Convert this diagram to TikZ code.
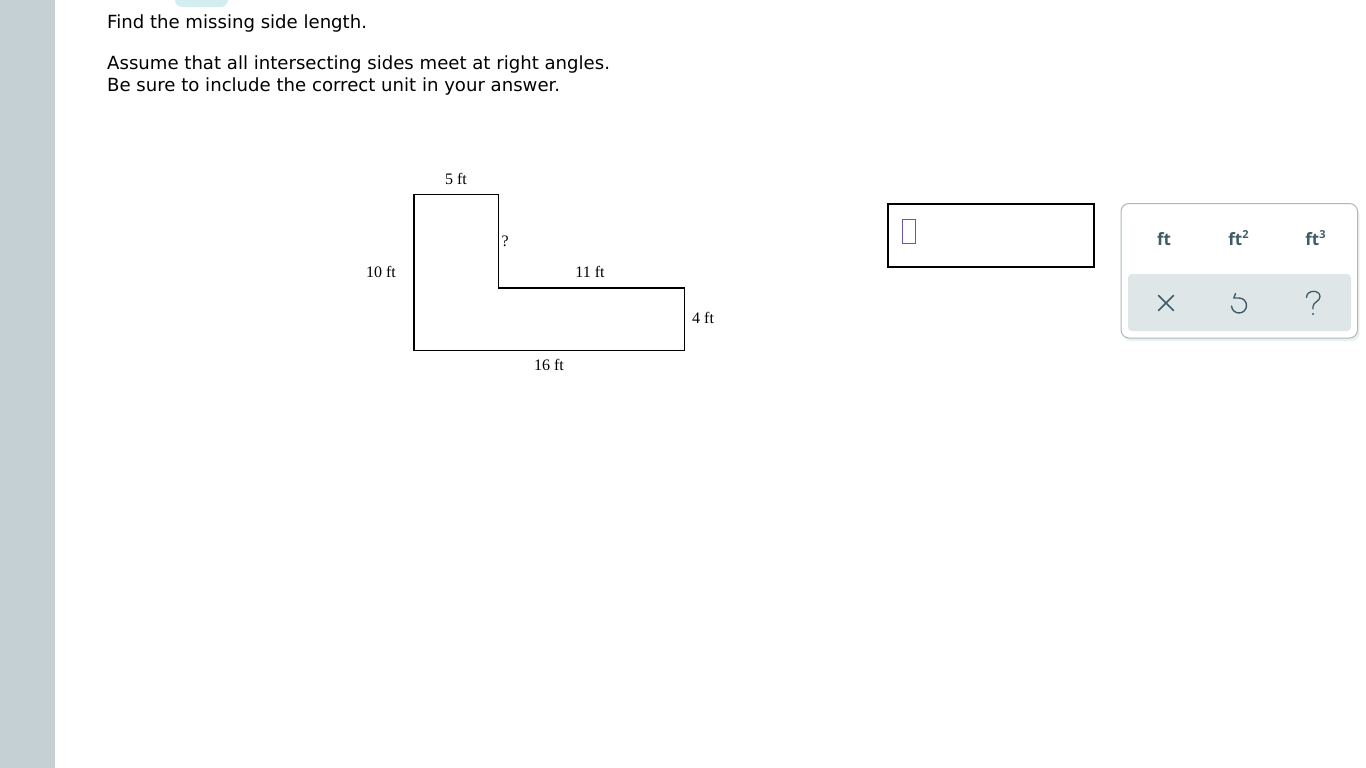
\documentclass[tikz,border=0pt]{standalone}
\usepackage{fontspec}
\setmainfont{DejaVu Sans}
\newfontfamily\seriffont{Liberation Serif}
\newfontfamily\unitfont{Open Sans}
\usetikzlibrary{shadows,arrows.meta}
\definecolor{sidebar}{HTML}{C4D0D4}
\definecolor{pill}{HTML}{D3EEF1}
\definecolor{unitcol}{HTML}{3E5C68}
\definecolor{panelborder}{HTML}{A9B9BF}
\definecolor{panelgray}{HTML}{DFE6E8}
\definecolor{cursorcol}{HTML}{6357BD}
\newcommand{\supnum}[1]{\raisebox{6.5pt}{\fontsize{11}{12}\selectfont #1}}
\tikzset{
  prompt/.style={anchor=base west, inner sep=0pt, font=\fontsize{18.1}{22}\selectfont},
  dimlabel/.style={anchor=base, inner sep=0pt, font=\seriffont\fontsize{16}{18}\selectfont},
  shapeline/.style={line width=1.3pt, line join=miter},
  unitkey/.style={inner sep=0pt, anchor=base, text=unitcol, font=\unitfont\bfseries\fontsize{17}{19}\selectfont},
  iconline/.style={draw=unitcol, line width=1.5pt, line cap=round, line join=round}
}
\begin{document}
\begin{tikzpicture}[x=1pt,y=-1pt]
\useasboundingbox (0,0) rectangle (1366,768);
\fill[white] (0,0) rectangle (1366,768);
% sidebar and pill
\fill[sidebar] (0,0) rectangle (55,768);
\fill[pill, rounded corners=7pt] (175,-10) rectangle (228,7);
% prompts
\node[prompt] (p1) at (107,29) {Find the missing side length.};
\node[prompt] (p2) at (107,69.5) {Assume that all intersecting sides meet at right angles.};
\node[prompt] (p3) at (107,91.5) {Be sure to include the correct unit in your answer.};
% shape
\coordinate (A) at (414,194.5);
\coordinate (B) at (498.5,194.5);
\coordinate (C) at (498.5,288);
\coordinate (D) at (684.3,288);
\coordinate (E) at (684.3,350.5);
\coordinate (F) at (414,350.5);
\draw[shapeline] (A) -- (B) -- (C) -- (D) -- (E) -- (F) -- cycle;
\node[dimlabel] (l5) at (456,184) {5 ft};
\node[dimlabel, anchor=base west] (lq) at (501.5,246) {?};
\node[dimlabel] (l10) at (381,277) {10 ft};
\node[dimlabel] (l11) at (590,277) {11 ft};
\node[dimlabel, anchor=base west] (l4) at (692,323) {4 ft};
\node[dimlabel] (l16) at (549,370) {16 ft};
% answer box
\draw[line width=1.2pt] (888,204) rectangle (1094,267);
\draw[cursorcol, line width=1.1pt] (902.5,219.5) rectangle (915.5,243.5);
% panel
\draw[panelborder, line width=1pt, fill=white, rounded corners=8pt,
  drop shadow={shadow xshift=2pt, shadow yshift=-3pt, opacity=0.12}] (1121,203.5) rectangle (1357.5,338);
\fill[panelgray, rounded corners=4pt] (1128,274) rectangle (1351,331);
\node[unitkey] (u1) at (1164,245) {ft};
\node[unitkey] (u2) at (1238.5,245) {ft\supnum{2}};
\node[unitkey] (u3) at (1315.5,245) {ft\supnum{3}};
% icons: close
\coordinate (xc) at (1166,303);
\draw[iconline] (xc) ++(-7.5,-7.5) -- ++(15,15);
\draw[iconline] (xc) ++(-7.5,7.5) -- ++(15,-15);
% icons: undo
\coordinate (uc) at (1239,305.5);
\draw[iconline, line width=1.4pt] (1235.5,293.5) -- (1233.8,298) -- (1239,298)
  arc[start angle=-90, end angle=175, radius=7.5];
% icons: help
\draw[iconline, line width=1.3pt] (1306.5,297.5) .. controls (1306.5,289.5) and (1320,289.5) .. (1320,296.5)
  .. controls (1320,301.5) and (1313,302) .. (1313,306.5) -- (1313,309);
\fill[unitcol] (1313,314) circle[radius=1.2];
\end{tikzpicture}
\end{document}
